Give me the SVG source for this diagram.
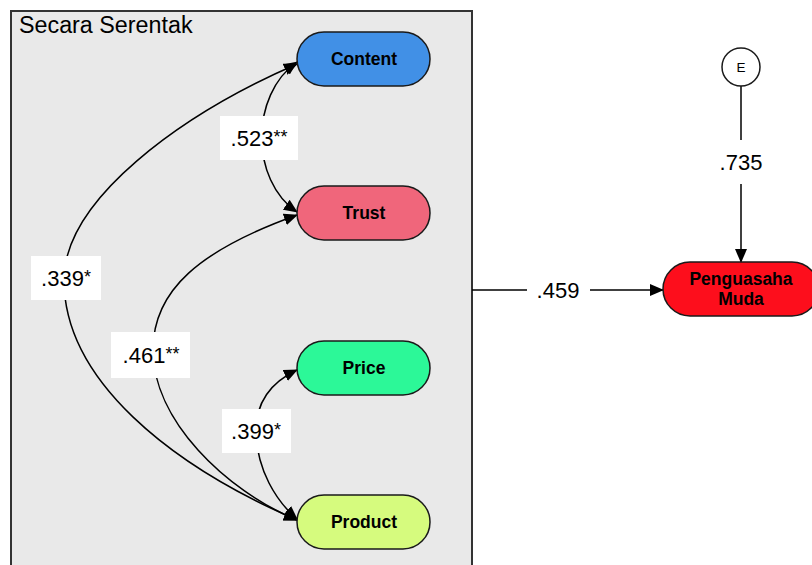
<svg xmlns="http://www.w3.org/2000/svg" width="812" height="565" viewBox="0 0 812 565">
<defs>
<marker id="arr" viewBox="0 0 14 12" refX="13" refY="6" markerWidth="14" markerHeight="12" markerUnits="userSpaceOnUse" orient="auto-start-reverse">
<path d="M0,0 L14,6 L0,12 z" fill="#000"/>
</marker>
<style>
.node{stroke:#1a1a1a;stroke-width:1.5}
.nt{font-family:"Liberation Sans",Arial,sans-serif;font-weight:bold;font-size:17.5px;text-anchor:middle;fill:#000}
.lab{font-family:"Liberation Sans",Arial,sans-serif;font-size:22px;text-anchor:middle;fill:#000}
.st{font-size:18px}
.lbox{fill:#fff}
.c{fill:none;stroke:#000;stroke-width:1.5}
.ca{fill:none;stroke:#000;stroke-width:1.5;marker-end:url(#arr)}
.cb{fill:none;stroke:#000;stroke-width:1.5;marker-start:url(#arr);marker-end:url(#arr)}
</style>
</defs>
<rect width="812" height="565" fill="#fff"/>
<g id="container">
<rect x="11" y="11" width="461" height="570" fill="#e9e9e9" stroke="#333" stroke-width="2"/>
<text x="19" y="33" font-family="Liberation Sans,Arial,sans-serif" font-size="23.3" fill="#000">Secara Serentak</text>
</g>
<g id="connectors">
<path class="cb" d="M297,62 C250,95 250,180 297,212"/>
<path class="cb" d="M297,64 C180,115 64,200 64,280 C64,380 170,465 297,520"/>
<path class="cb" d="M297,215 C200,250 153,290 153,350 C153,420 225,490 297,520"/>
<path class="cb" d="M297,370 C265,385 255,410 256,435 C258,470 275,500 297,519"/>
<path class="c" d="M472,290 L527,290"/>
<path class="ca" d="M590,290 L663,290"/>
<path class="c" d="M741,86 L741,140"/>
<path class="ca" d="M741,184 L741,262"/>
<rect class="lbox" x="220" y="116" width="78" height="44"/>
<text class="lab" x="259" y="146">.523<tspan class="st" dy="-3">**</tspan></text>
<rect class="lbox" x="31" y="256" width="70" height="44"/>
<text class="lab" x="66" y="286">.339<tspan class="st" dy="-3">*</tspan></text>
<rect class="lbox" x="111" y="332" width="79" height="46"/>
<text class="lab" x="151" y="363">.461<tspan class="st" dy="-3">**</tspan></text>
<rect class="lbox" x="222" y="409" width="69" height="44"/>
<text class="lab" x="256" y="439">.399<tspan class="st" dy="-3">*</tspan></text>
<text class="lab" x="558" y="298">.459</text>
<text class="lab" x="741" y="170">.735</text>
</g>
<g id="content">
<rect class="node" x="297" y="32" width="133" height="54" rx="27" fill="#4190e6"/>
<text class="nt" x="364" y="65">Content</text>
</g>
<g id="trust">
<rect class="node" x="297" y="186" width="133" height="54" rx="27" fill="#f0667b"/>
<text class="nt" x="364" y="219">Trust</text>
</g>
<g id="price">
<rect class="node" x="297" y="341" width="133" height="54" rx="27" fill="#2cf898"/>
<text class="nt" x="364" y="374">Price</text>
</g>
<g id="product">
<rect class="node" x="297" y="495" width="133" height="54" rx="27" fill="#d6fb7e"/>
<text class="nt" x="364" y="528">Product</text>
</g>
<g id="penguasaha">
<rect class="node" x="663" y="262" width="156" height="54" rx="27" fill="#fd0e1c"/>
<text class="nt" x="741" y="285">Penguasaha</text>
<text class="nt" x="741" y="305">Muda</text>
</g>
<g id="e">
<circle cx="741" cy="67" r="19" fill="#fff" stroke="#1a1a1a" stroke-width="1.5"/>
<text x="741" y="72" font-family="Liberation Sans,Arial,sans-serif" font-size="13.5" text-anchor="middle" fill="#000">E</text>
</g>
</svg>
